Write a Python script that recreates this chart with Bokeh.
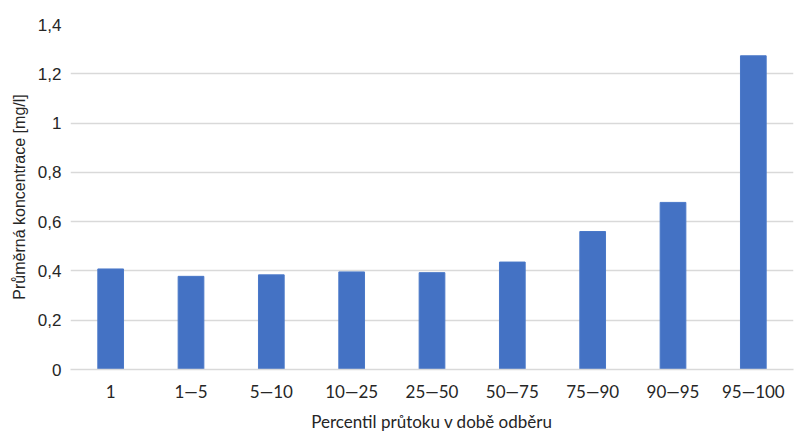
from bokeh.plotting import figure
from bokeh.models import FactorRange, Range1d, FixedTicker, CustomJSTickFormatter, ColumnDataSource
from bokeh.embed import file_html
from bokeh.resources import INLINE

categories = ["1", "1—5", "5—10", "10—25", "25—50", "50—75", "75—90", "90—95", "95—100"]
values = [0.408, 0.378, 0.384, 0.396, 0.393, 0.436, 0.560, 0.678, 1.273]
y_ticks = [0, 0.2, 0.4, 0.6, 0.8, 1.0, 1.2, 1.4]

src = ColumnDataSource(data=dict(cat=categories, val=values))

p = figure(x_range=FactorRange(*categories, range_padding=0), y_range=Range1d(0, 1.4),
           width=800, height=443, output_backend="svg", toolbar_location=None,
           min_border_left=70, min_border_right=7, min_border_top=24, min_border_bottom=74)
p.outline_line_color = None
p.background_fill_color = "white"
p.border_fill_color = "white"

p.vbar(x="cat", top="val", width=0.32, source=src, fill_color="#4472C4", line_color="#4a78c8", line_width=1)

text_color = "#262626"
p.yaxis.ticker = FixedTicker(ticks=y_ticks)
p.yaxis.formatter = CustomJSTickFormatter(code="return (Math.round(tick*10)/10).toString().replace('.', ',');")
p.yaxis.axis_line_color = None
p.yaxis.major_tick_line_color = None
p.yaxis.minor_tick_line_color = None
p.yaxis.major_label_text_font = "Liberation Sans"
p.yaxis.major_label_text_font_size = "17px"
p.yaxis.major_label_text_color = text_color
p.yaxis.major_label_standoff = 3
p.yaxis.axis_label = "Průměrná koncentrace [mg/l]"
p.yaxis.axis_label_text_font = "Liberation Sans"
p.yaxis.axis_label_text_font_style = "normal"
p.yaxis.axis_label_text_font_size = "16px"
p.yaxis.axis_label_text_color = text_color
p.yaxis.axis_label_standoff = 7

p.xaxis.axis_line_color = "#d9d9d9"
p.xaxis.axis_line_width = 1.5
p.xaxis.major_tick_line_color = None
p.xaxis.minor_tick_line_color = None
p.xaxis.major_label_text_font = "Lato"
p.xaxis.major_label_text_font_size = "17px"
p.xaxis.major_label_text_color = text_color
p.xaxis.major_label_standoff = 5
p.xaxis.axis_label = "Percentil průtoku v době odběru"
p.xaxis.axis_label_text_font = "Lato"
p.xaxis.axis_label_text_font_style = "normal"
p.xaxis.axis_label_text_font_size = "17px"
p.xaxis.axis_label_text_color = text_color
p.xaxis.axis_label_standoff = 6

p.xgrid.grid_line_color = None
p.ygrid.grid_line_color = "#d9d9d9"
p.ygrid.grid_line_width = 1.5

open("out.html", "w").write(file_html(p, INLINE))
